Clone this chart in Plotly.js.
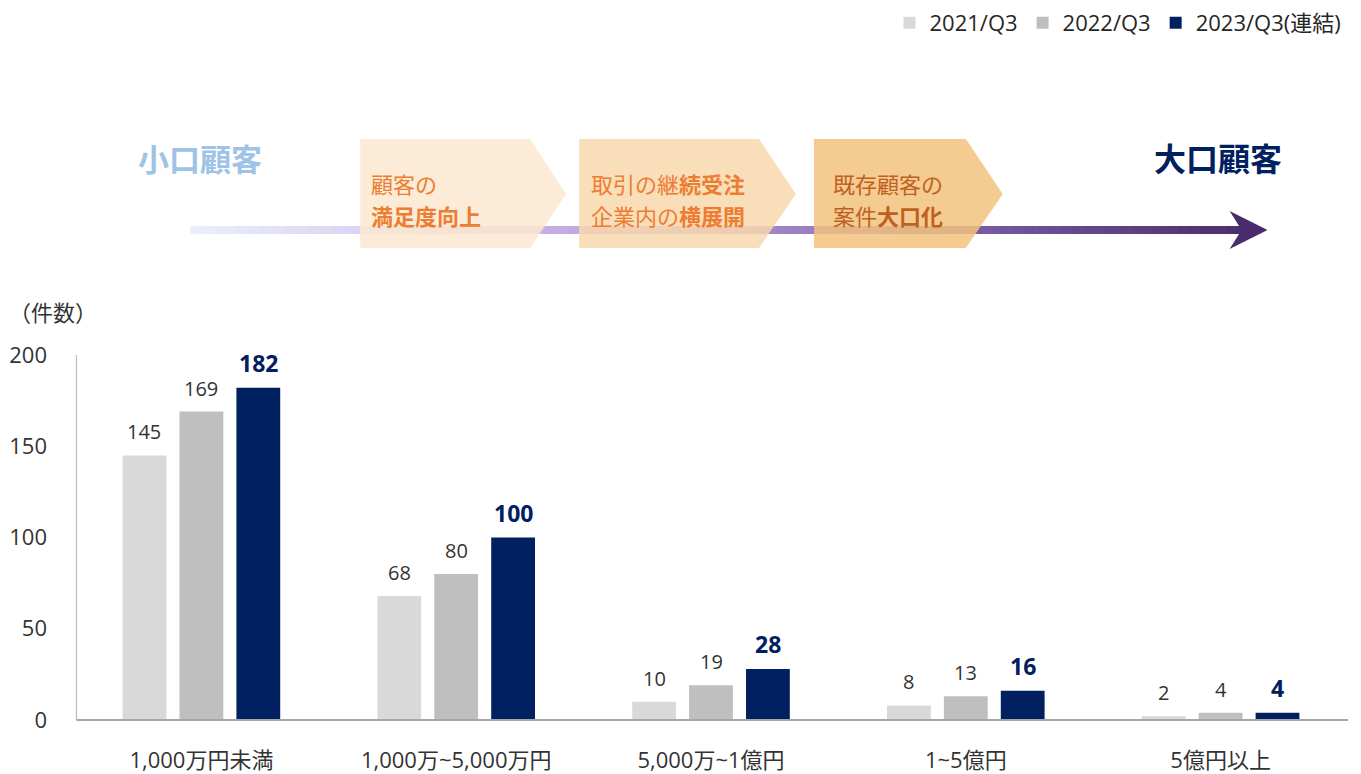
<!DOCTYPE html>
<html>
<head>
<meta charset="utf-8">
<script src="https://cdn.plot.ly/plotly-3.0.1.min.js"></script>
<style>html,body{margin:0;padding:0;background:#fff;}#chart{width:1361px;height:774px;}</style>
</head>
<body>
<div id="chart"></div>
<script>
// ---- data ----
const categories = ['1,000万円未満', '1,000万~5,000万円', '5,000万~1億円', '1~5億円', '5億円以上'];
const seriesNames = ['2021/Q3', '2022/Q3', '2023/Q3(連結)'];
const values2021 = [145, 68, 10, 8, 2];
const values2022 = [169, 80, 19, 13, 4];
const values2023 = [182, 100, 28, 16, 4];
const yTicks = [0, 50, 100, 150, 200];
const yTitle = '（件数）';

// ---- layout constants ----
const W = 1361, H = 774;
const L = 73.5, R = 1348.5, T = 355, B = 720;
const FONT = '"Open Sans", "Noto Sans CJK JP", sans-serif';
const CJK = '"Noto Sans CJK JP", "Noto Sans", sans-serif';
const colors = ['#d9d9d9', '#bfbfbf', '#002060'];
const bargap = 0.33;

const xp = px => (px - L) / (R - L);
const yp = py => (B - py) / (B - T);

const allValues = [values2021, values2022, values2023];
const traces = allValues.map((vals, i) => ({
  type: 'bar', name: seriesNames[i], x: categories, y: vals,
  marker: {color: colors[i]}, hoverinfo: 'x+y'
}));

// value labels through the axes
const catPx = (R - L) / categories.length;
const slot = catPx * (1 - bargap) / 3;
const annotations = [];
allValues.forEach((vals, i) => {
  vals.forEach((v, j) => {
    const bold = i === 2;
    annotations.push({
      x: categories[j], y: v, xref: 'x', yref: 'y', xshift: (i - 1) * slot,
      yanchor: 'bottom', yshift: bold ? 7 : 8, showarrow: false,
      text: bold ? '<b>' + v + '</b>' : String(v),
      font: {family: FONT, size: bold ? 23 : 20, color: bold ? '#002060' : '#333333'}
    });
  });
});

// y-axis title
annotations.push({xref: 'paper', yref: 'paper', x: xp(6), y: yp(311), xanchor: 'left', yanchor: 'middle',
  showarrow: false, text: yTitle, font: {family: CJK, size: 22, color: '#333333'}});

// top diagram texts
function txt(px, py, text, size, color, anchor) {
  annotations.push({xref: 'paper', yref: 'paper', x: xp(px), y: yp(py), xanchor: anchor || 'left', yanchor: 'middle',
    align: 'left', showarrow: false, text: text, font: {family: CJK, size: size, color: color}});
}
txt(136, 157, '<b>小口顧客</b>', 31, '#9dc3e6');
txt(1284, 157, '<b>大口顧客</b>', 32, '#002060', 'right');
txt(369, 183, '顧客の', 22, '#ed7d31');
txt(369, 215, '<b>満足度向上</b>', 22, '#ed7d31');
txt(589, 183, '取引の継<b>続受注</b>', 22, '#ed7d31');
txt(589, 215, '企業内の<b>横展開</b>', 22, '#ed7d31');
txt(831, 183, '既存顧客の', 22, '#c0601f');
txt(831, 215, '案件<b>大口化</b>', 22, '#c0601f');

// shapes: gradient arrow line + chevrons
const shapes = [];
const stops = [[0, [232, 239, 251]], [0.2, [214, 204, 240]], [0.38, [192, 164, 220]], [0.6, [150, 122, 192]], [0.8, [108, 78, 148]], [1, [74, 44, 108]]];
function colAt(t) {
  for (let k = 0; k < stops.length - 1; k++) {
    const [t0, c0] = stops[k], [t1, c1] = stops[k + 1];
    if (t >= t0 && t <= t1) {
      const f = (t - t0) / (t1 - t0);
      const c = c0.map((a, n) => Math.round(a + (c1[n] - a) * f));
      return 'rgb(' + c.join(',') + ')';
    }
  }
  return 'rgb(74,44,108)';
}
const x0 = 190, x1 = 1248, N = 90;
for (let k = 0; k < N; k++) {
  const a = x0 + (x1 - x0) * k / N, b = x0 + (x1 - x0) * (k + 1) / N + 0.6;
  shapes.push({type: 'rect', xref: 'paper', yref: 'paper', x0: xp(a), x1: xp(b), y0: yp(226), y1: yp(234),
    fillcolor: colAt(k / N), line: {width: 0}, layer: 'above'});
}
function pth(pts) {
  return 'M' + pts.map(p => xp(p[0]).toFixed(5) + ',' + yp(p[1]).toFixed(5)).join('L') + 'Z';
}
shapes.push({type: 'path', xref: 'paper', yref: 'paper', path: pth([[1230, 211], [1268, 230], [1230, 249], [1242, 230]]),
  fillcolor: '#4a2c6c', line: {width: 0}, layer: 'above'});
function chevron(l, e, tip, color, op) {
  shapes.push({type: 'path', xref: 'paper', yref: 'paper', path: pth([[l, 139], [e, 139], [tip, 194], [e, 248], [l, 248]]),
    fillcolor: color, opacity: op, line: {width: 0}, layer: 'above'});
}
chevron(360, 530, 566, '#fce8d0', 0.85);
chevron(579, 759, 796, '#f8d8ae', 0.85);
chevron(814, 966, 1003, '#f2c27e', 0.85);

// axis lines
shapes.push({type: 'line', xref: 'paper', yref: 'paper', x0: xp(76), x1: xp(76), y0: 0, y1: 1, line: {color: '#bfbfbf', width: 1.3}});
shapes.push({type: 'line', xref: 'paper', yref: 'paper', x0: xp(76), x1: 1, y0: 0, y1: 0, line: {color: '#a6a6a6', width: 2}});

const layout = {
  width: W, height: H, paper_bgcolor: '#ffffff', plot_bgcolor: '#ffffff',
  margin: {l: L, r: W - R, t: T, b: H - B, pad: 0, autoexpand: false},
  barmode: 'group', bargap: bargap, bargroupgap: 0.23,
  font: {family: FONT, color: '#333333'},
  showlegend: true,
  legend: {orientation: 'h', x: xp(1347), xanchor: 'right', y: yp(2), yanchor: 'top',
    font: {family: FONT, size: 22, color: '#262626'}, itemclick: false, traceorder: 'normal', tracegroupgap: 0},
  xaxis: {type: 'category', categoryarray: categories, range: [-0.5, categories.length - 0.5], showline: false, showgrid: false,
    zeroline: false, ticks: '', ticklabelstandoff: 25, tickfont: {family: FONT, size: 22, color: '#333333'}},
  yaxis: {range: [0, 200], tickvals: yTicks, ticktext: yTicks.map(String), showline: false, showgrid: false, zeroline: false,
    ticks: '', ticklabelstandoff: 26, tickfont: {family: FONT, size: 22, color: '#333333'}},
  annotations: annotations, shapes: shapes
};

Plotly.newPlot('chart', traces, layout, {displayModeBar: false, staticPlot: true});
</script>
</body>
</html>
